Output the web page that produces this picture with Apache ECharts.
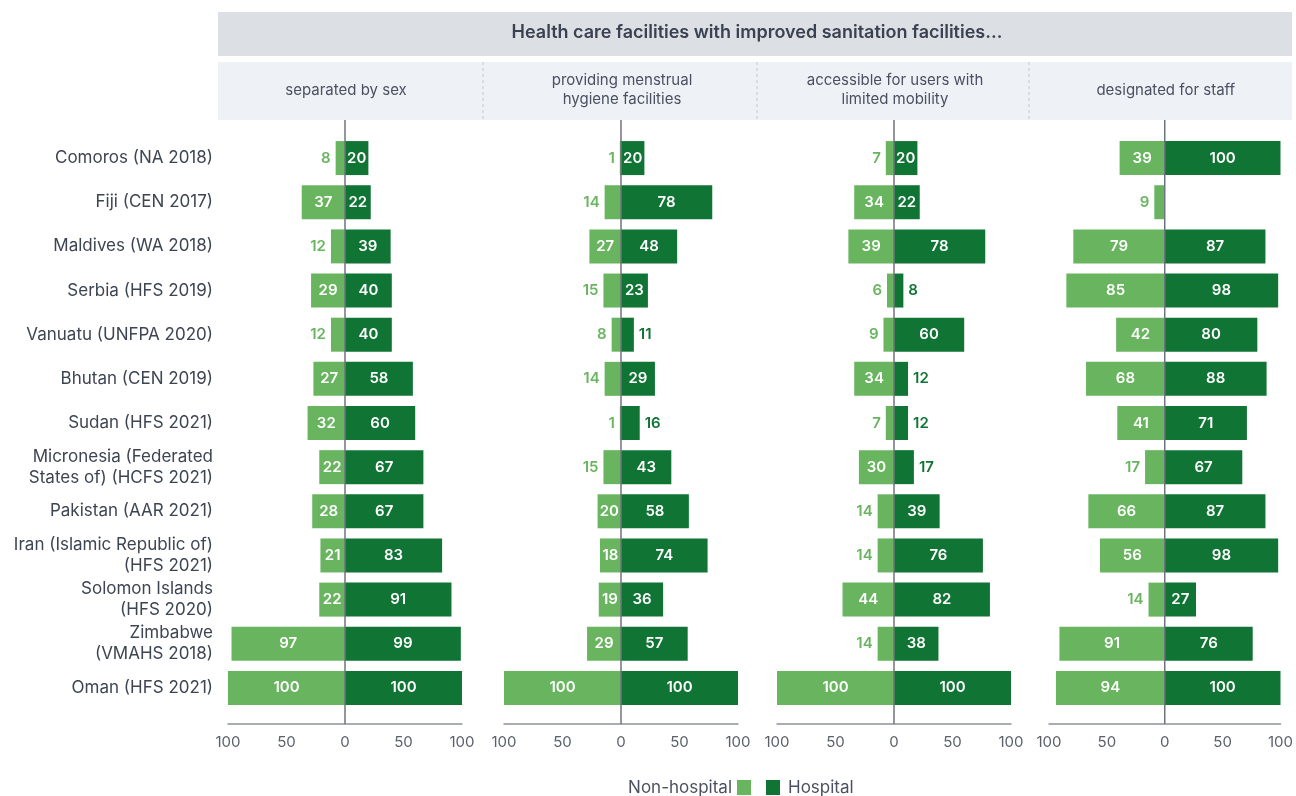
<!DOCTYPE html>
<html><head><meta charset="utf-8">
<script src="https://cdn.jsdelivr.net/npm/echarts@6/dist/echarts.min.js"></script>
<style>html,body{margin:0;padding:0;background:#fff}#c{width:1296px;height:796px}</style>
</head><body><div id="c"></div>
<script>
const categories = [
  'Comoros (NA 2018)',
  'Fiji (CEN 2017)',
  'Maldives (WA 2018)',
  'Serbia (HFS 2019)',
  'Vanuatu (UNFPA 2020)',
  'Bhutan (CEN 2019)',
  'Sudan (HFS 2021)',
  'Micronesia (Federated\nStates of) (HCFS 2021)',
  'Pakistan (AAR 2021)',
  'Iran (Islamic Republic of)\n(HFS 2021)',
  'Solomon Islands\n(HFS 2020)',
  'Zimbabwe\n(VMAHS 2018)',
  'Oman (HFS 2021)'
];
const headerTitle = 'Health care facilities with improved sanitation facilities…';
const panelTitles = [
  'separated by sex',
  'providing menstrual\nhygiene facilities',
  'accessible for users with\nlimited mobility',
  'designated for staff'
];

const sexNonHospital       = [8, 37, 12, 29, 12, 27, 32, 22, 28, 21, 22, 97, 100];
const sexHospital          = [20, 22, 39, 40, 40, 58, 60, 67, 67, 83, 91, 99, 100];
const menstrualNonHospital = [1, 14, 27, 15, 8, 14, 1, 15, 20, 18, 19, 29, 100];
const menstrualHospital    = [20, 78, 48, 23, 11, 29, 16, 43, 58, 74, 36, 57, 100];
const mobilityNonHospital  = [7, 34, 39, 6, 9, 34, 7, 30, 14, 14, 44, 14, 100];
const mobilityHospital     = [20, 22, 78, 8, 60, 12, 12, 17, 39, 76, 82, 38, 100];
const staffNonHospital     = [39, 9, 79, 85, 42, 68, 41, 17, 66, 56, 14, 91, 94];
const staffHospital        = [100, null, 87, 98, 80, 88, 71, 67, 87, 98, 27, 76, 100];

const panels = [
  [sexNonHospital, sexHospital],
  [menstrualNonHospital, menstrualHospital],
  [mobilityNonHospital, mobilityHospital],
  [staffNonHospital, staffHospital]
];

const LIGHT = '#69b55f';
const DARK = '#107434';
const TEXT = '#3d4452';
const FONT = 'Inter, "Noto Sans", sans-serif';
const gridLefts = [228, 504, 777, 1049];
const GRID_W = 234;

const chart = echarts.init(document.getElementById('c'), null, {renderer: 'canvas'});

function nonItem(v) {
  if (v == null) return null;
  const inside = v >= 18;
  return {value: -v, label: {position: inside ? 'inside' : 'left', color: inside ? '#ffffff' : LIGHT}};
}
function hospItem(v) {
  if (v == null) return null;
  const inside = v >= 18;
  return {value: v, label: {position: inside ? 'inside' : 'right', color: inside ? '#ffffff' : DARK}};
}

const grids = [], xAxes = [], yAxes = [], series = [];
panels.forEach((p, i) => {
  grids.push({left: gridLefts[i], width: GRID_W, top: 136, height: 574});
  xAxes.push({
    type: 'value', gridIndex: i, min: -100, max: 100, interval: 50, offset: 14,
    axisLine: {show: true, lineStyle: {color: '#8d9199', width: 1.5}},
    axisTick: {show: false}, splitLine: {show: false},
    axisLabel: {color: '#5b606b', fontSize: 15, fontFamily: FONT, margin: 11,
      formatter: v => String(Math.abs(v))}
  });
  yAxes.push({
    type: 'category', gridIndex: i, data: categories, inverse: true,
    axisLine: {show: false, onZero: false}, axisTick: {show: false},
    axisLabel: {show: i === 0, color: TEXT, fontSize: 17, fontFamily: FONT, lineHeight: 21,
      margin: 15, align: 'right'}
  });
  const labelBase = {show: true, fontFamily: FONT, fontWeight: 600, fontSize: 15, distance: 5,
    formatter: q => String(Math.abs(q.value))};
  series.push({
    name: 'Non-hospital', type: 'bar', xAxisIndex: i, yAxisIndex: i,
    data: p[0].map(nonItem), barWidth: 34, barGap: '-100%',
    itemStyle: {color: LIGHT}, label: labelBase
  });
  series.push({
    name: 'Hospital', type: 'bar', xAxisIndex: i, yAxisIndex: i,
    data: p[1].map(hospItem), barWidth: 34, barGap: '-100%',
    itemStyle: {color: DARK}, label: labelBase
  });
});

const option = {
  animation: false,
  backgroundColor: '#ffffff',
  textStyle: {fontFamily: FONT},
  grid: grids, xAxis: xAxes, yAxis: yAxes, series: series,
  legend: [
    {data: ['Non-hospital'], align: 'right', right: 545, top: 777, itemWidth: 14, itemHeight: 15,
      padding: [2, 0, 2, 0], textStyle: {color: '#4a5060', fontSize: 17, fontFamily: FONT}, icon: 'rect'},
    {data: ['Hospital'], align: 'left', left: 766, top: 777, itemWidth: 14, itemHeight: 15,
      padding: [2, 0, 2, 0], textStyle: {color: '#4a5060', fontSize: 17, fontFamily: FONT, padding: [0, 0, 0, 3]}, icon: 'rect'}
  ]
};
chart.setOption(option);

// decorations: header bands, dividers, panel titles, zero lines
const g = [];
g.push({type: 'rect', id: 'hdr', z: 0, shape: {x: 218, y: 12, width: 1074, height: 44}, style: {fill: '#dcdfe4'}});
g.push({type: 'text', id: 'hdrt', z: 1, style: {text: headerTitle, x: 757, y: 33, textAlign: 'center', textVerticalAlign: 'middle',
  font: '600 18px ' + FONT, fill: '#3a4150'}});
g.push({type: 'rect', id: 'sub', z: 0, shape: {x: 218, y: 62, width: 1074, height: 58}, style: {fill: '#eef1f6'}});
[483, 757, 1029].forEach((x, k) => {
  g.push({type: 'line', id: 'div' + k, z: 1, shape: {x1: x, y1: 62, x2: x, y2: 120},
    style: {stroke: '#c3c7ce', lineWidth: 1, lineDash: [3, 3]}});
});
panels.forEach((p, i) => {
  const x0 = chart.convertToPixel({gridIndex: i}, [0, 0])[0];
  g.push({type: 'text', id: 'pt' + i, z: 1, style: {text: panelTitles[i], x: x0 + 1, y: 90, textAlign: 'center',
    textVerticalAlign: 'middle', font: '15px ' + FONT, fill: '#4a5060', lineHeight: 19}});
  g.push({type: 'line', id: 'zl' + i, z: 100, shape: {x1: x0, y1: 120, x2: x0, y2: 724},
    style: {stroke: '#6f737d', lineWidth: 1.5}});
});
chart.setOption({graphic: g});
</script>
</body></html>
